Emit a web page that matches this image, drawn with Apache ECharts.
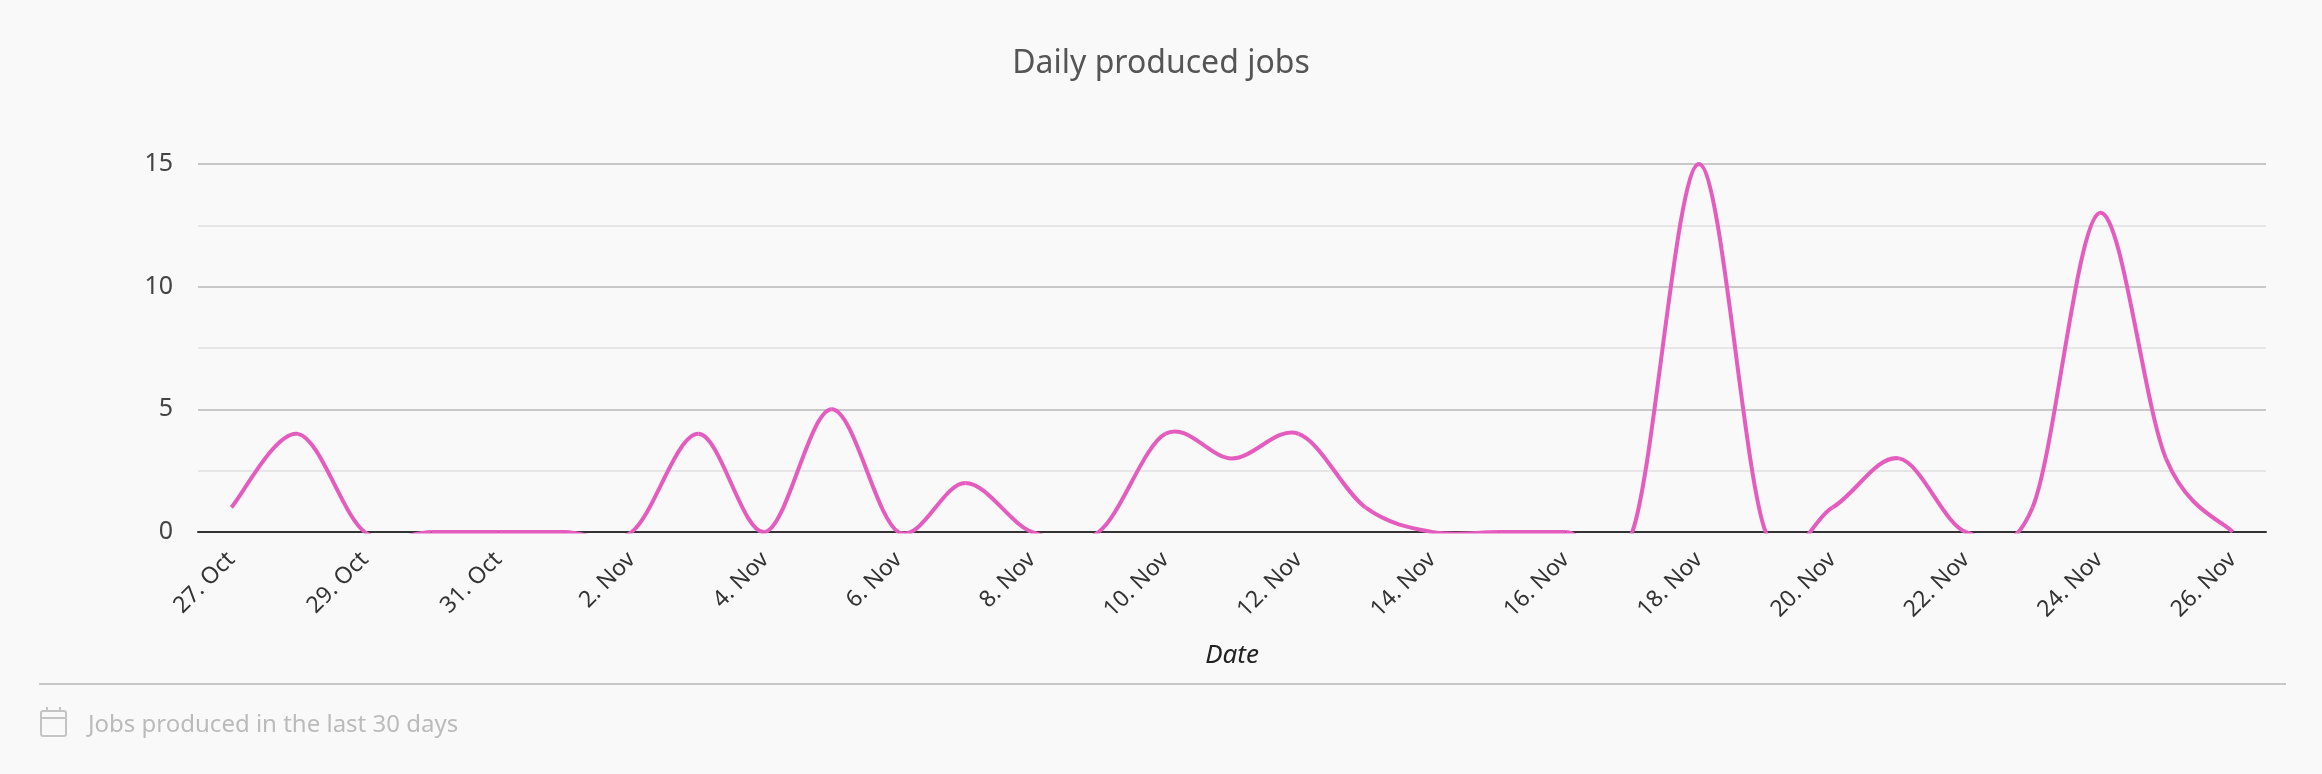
<!DOCTYPE html>
<html><head><meta charset="utf-8">
<style>html,body{margin:0;padding:0;background:#f9f9f9}#c{width:2322px;height:774px}</style>
<script src="https://cdn.jsdelivr.net/npm/echarts@6/dist/echarts.min.js"></script>
</head><body><div id="c"></div>
<script>
const dates = ['27. Oct','28. Oct','29. Oct','30. Oct','31. Oct','1. Nov','2. Nov','3. Nov','4. Nov','5. Nov','6. Nov','7. Nov','8. Nov','9. Nov','10. Nov','11. Nov','12. Nov','13. Nov','14. Nov','15. Nov','16. Nov','17. Nov','18. Nov','19. Nov','20. Nov','21. Nov','22. Nov','23. Nov','24. Nov','25. Nov','26. Nov'];
const jobs = [1,4,0,0,0,0,0,4,0,5,0,2,0,0,4,3,4,1,0,0,0,0,15,0,1,3,0,1,13,3,0];
const titleText = 'Daily produced jobs';
const axisName = 'Date';
const footerText = 'Jobs produced in the last 30 days';
const font = '"Noto Sans"';

function renderSegment(params, api) {
  const i = params.dataIndex;
  if (i >= jobs.length - 1) return null;
  const n = jobs.length;
  const pt = k => { const j = Math.max(0, Math.min(n-1, k)); return api.coord([j, jobs[j]]); };
  const a = pt(i-1), p0 = pt(i), p1 = pt(i+1), b = pt(i+2);
  const cs = params.coordSys;
  return {
    type: 'bezierCurve',
    shape: {
      x1:p0[0], y1:p0[1], x2:p1[0], y2:p1[1],
      cpx1:p0[0]+(p1[0]-a[0])/6, cpy1:p0[1]+(p1[1]-a[1])/6,
      cpx2:p1[0]-(b[0]-p0[0])/6, cpy2:p1[1]-(b[1]-p0[1])/6
    },
    style: {stroke:'#e55cbf', lineWidth:4, fill:null, lineCap:'butt'},
    clipPath: {type:'rect', shape:{x:cs.x-5, y:cs.y-3, width:cs.width+10, height:cs.height+4.5}}
  };
}
const chart = echarts.init(document.getElementById('c'), null, {renderer:'canvas'});
chart.setOption({
  animation:false,
  backgroundColor:'#f9f9f9',
  textStyle:{fontFamily:font},
  title:{text:titleText,left:'center',top:43,textStyle:{fontFamily:font,fontSize:32,fontWeight:'normal',color:'#555'}},
  grid:{left:198,right:56,top:164,bottom:242,containLabel:false},
  xAxis:{
    type:'category',data:dates,boundaryGap:true,
    name:axisName,nameLocation:'middle',nameGap:111,
    nameTextStyle:{fontFamily:font,fontSize:26,fontStyle:'italic',color:'#222'},
    axisLine:{show:true,lineStyle:{color:'#333',width:2}},
    axisTick:{show:false},
    splitLine:{show:false},
    axisLabel:{interval:1,rotate:45,margin:24,fontFamily:font,fontSize:23,color:'#333'}
  },
  yAxis:{
    type:'value',min:0,max:15,interval:5,
    axisLine:{show:false},axisTick:{show:false},
    axisLabel:{margin:25,fontFamily:font,fontSize:25,color:'#444'},
    splitLine:{show:true,lineStyle:{color:'#c8c8c8',width:2}},
    minorTick:{show:false,splitNumber:2},
    minorSplitLine:{show:true,lineStyle:{color:'#e6e6e6',width:2}}
  },
  series:[{type:'custom',coordinateSystem:'cartesian2d',clip:false,z:5,silent:true,
    data:jobs.map((v,i)=>[i,v]),encode:{x:0,y:1},renderItem:renderSegment}],
  graphic:[
    {type:'line',shape:{x1:39,y1:684,x2:2286,y2:684},style:{stroke:'#c8c8c8',lineWidth:2}},
    {type:'rect',shape:{x:41,y:711,width:25,height:25,r:2},style:{stroke:'#c4c4c4',lineWidth:2,fill:null}},
    {type:'line',shape:{x1:41,y1:718,x2:66,y2:718},style:{stroke:'#c4c4c4',lineWidth:2}},
    {type:'line',shape:{x1:47,y1:707,x2:47,y2:711},style:{stroke:'#c4c4c4',lineWidth:2}},
    {type:'line',shape:{x1:60,y1:707,x2:60,y2:711},style:{stroke:'#c4c4c4',lineWidth:2}},
    {type:'text',x:88,y:725,style:{text:footerText,font:'24px '+font,fill:'#bbbbbb',verticalAlign:'middle'}}
  ]
});
</script></body></html>
